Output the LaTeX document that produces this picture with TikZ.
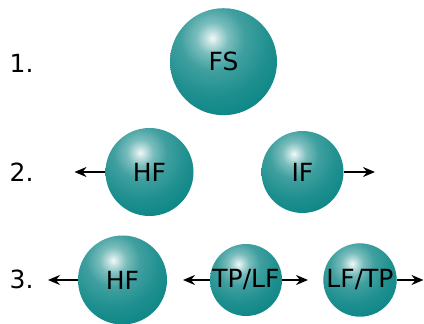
\documentclass[tikz,border=0pt]{standalone}
\usepackage{fontspec}
\setmainfont{DejaVu Sans}
\usetikzlibrary{arrows.meta}
\pgfdeclareradialshading{tealball}{\pgfpointorigin}{%
  color(0bp)=(teal!5!white);
  color(2bp)=(teal!25!white);
  color(5bp)=(teal!52!white);
  color(10bp)=(teal!75!white);
  color(18bp)=(teal!88!white);
  color(28bp)=(teal!97!white);
  color(38bp)=(teal);
  color(50bp)=(teal!93!black)}
\begin{document}
\begin{tikzpicture}[x=1pt,y=-1pt,
  ball/.style={circle, minimum size=2*#1pt, inner sep=0pt,
    font=\fontsize{25}{30}\selectfont,
    path picture={\shade[shading=tealball]
      ([shift={(-0.21*#1pt,0.44*#1pt)}]path picture bounding box.center)
      circle[radius=1.5*#1pt];}},
  num/.style={anchor=base west, inner sep=0pt, font=\fontsize{25}{30}\selectfont},
  arr/.style={-{Stealth[length=12pt,width=10pt,inset=4pt]}, line width=2pt}]
\useasboundingbox (0,0) rectangle (424,324);
% row labels
\node[num] (n1) at (9.5,72.3) {1.};
\node[num] (n2) at (9.5,181) {2.};
\node[num] (n3) at (9.5,288.3) {3.};
% row 1
\node[ball=53.5] (fs) at (223.5,61.7) {FS};
% row 2
\node[ball=44] (hf2) at (149.5,172) {HF};
\node[ball=41] (if) at (302.5,172) {IF};
\coordinate (a2l) at (74.5,172);
\coordinate (a2r) at (375,172);
\draw[arr] (hf2.west) -- (a2l);
\draw[arr] (if.east) -- (a2r);
% row 3
\node[ball=44.5] (hf3) at (122.5,280) {HF};
\node[ball=36] (tplf) at (246,280) {TP/LF};
\node[ball=36.7] (lftp) at (360,280) {LF/TP};
\coordinate (a3a) at (48,280);
\coordinate (a3b) at (183,280);
\coordinate (a3c) at (308,280);
\coordinate (a3d) at (423.5,280);
\draw[arr] (hf3.west) -- (a3a);
\draw[arr] (tplf.west) -- (a3b);
\draw[arr] (tplf.east) -- (a3c);
\draw[arr] (lftp.east) -- (a3d);
\end{tikzpicture}
\end{document}
